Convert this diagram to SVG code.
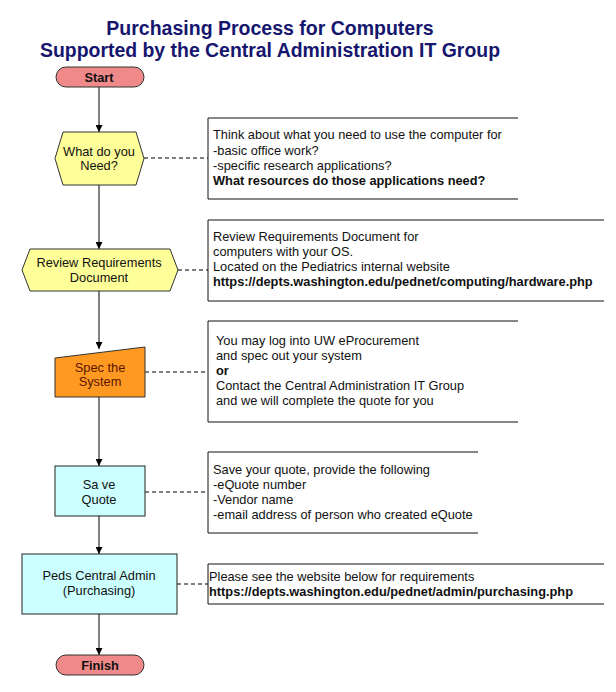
<svg xmlns="http://www.w3.org/2000/svg" width="616" height="692" viewBox="0 0 616 692">
<defs>
<marker id="arr" viewBox="0 0 8 8" refX="8" refY="4" markerWidth="7" markerHeight="7" markerUnits="userSpaceOnUse" orient="auto">
<path d="M0,0 L8,4 L0,8 Z" fill="#000"/>
</marker>
</defs>
<style>
text{font-family:"Liberation Sans",Arial,sans-serif;font-size:12.8px;fill:#111}
.title{font-size:19.5px;font-weight:bold;fill:#16166e;text-anchor:middle}
.b{font-weight:bold}
.c{text-anchor:middle}
.term{fill:#f08a8a;stroke:#333;stroke-width:1}
.prep{fill:#ffff99;stroke:#333;stroke-width:1}
.man{fill:#ff9922;stroke:#333;stroke-width:1}
.proc{fill:#ccffff;stroke:#222;stroke-width:1}
.note{fill:none;stroke:#111;stroke-width:1}
.flow{stroke:#000;stroke-width:1;fill:none;marker-end:url(#arr)}
.dash{stroke:#000;stroke-width:1;fill:none;stroke-dasharray:4,3}
</style>
<rect width="616" height="692" fill="#fff"/>
<g id="title">
<text class="title" x="270" y="35">Purchasing Process for Computers</text>
<text class="title" x="270" y="57" textLength="460" lengthAdjust="spacingAndGlyphs">Supported by the Central Administration IT Group</text>
</g>
<g id="connectors">
<line class="flow" x1="99" y1="87" x2="99" y2="132"/>
<line class="flow" x1="99" y1="185" x2="99" y2="249"/>
<line class="flow" x1="99" y1="291" x2="99" y2="349"/>
<line class="flow" x1="99" y1="397" x2="99" y2="466"/>
<line class="flow" x1="99" y1="516" x2="99" y2="554"/>
<line class="flow" x1="99" y1="614" x2="99" y2="655"/>
<line class="dash" x1="144" y1="158" x2="208" y2="158"/>
<line class="dash" x1="178" y1="270" x2="208" y2="270"/>
<line class="dash" x1="145" y1="372" x2="208" y2="372"/>
<line class="dash" x1="145" y1="492" x2="208" y2="492"/>
<line class="dash" x1="177" y1="584" x2="208" y2="584"/>
</g>
<g id="start">
<rect class="term" x="56" y="67" width="88" height="20" rx="10" ry="10"/>
<text class="b c" x="99" y="81.5">Start</text>
</g>
<g id="need">
<polygon class="prep" points="63,132 136,132 144,158.5 136,185 63,185 55,158.5"/>
<text class="c" x="99" y="156">What do you</text>
<text class="c" x="99" y="170">Need?</text>
</g>
<g id="need-note">
<polyline class="note" points="518,118 208,118 208,199 518,199"/>
<text x="213" y="139">Think about what you need to use the computer for</text>
<text x="213" y="155">-basic office work?</text>
<text x="213" y="170">-specific research applications?</text>
<text class="b" x="213" y="185">What resources do those applications need?</text>
</g>
<g id="review">
<polygon class="prep" points="30,249 170,249 178,270 170,291 30,291 22,270"/>
<text class="c" x="99" y="267">Review Requirements</text>
<text class="c" x="99" y="282">Document</text>
</g>
<g id="review-note">
<polyline class="note" points="604,220 208,220 208,301 604,301"/>
<text x="213" y="241">Review Requirements Document for</text>
<text x="213" y="256">computers with your OS.</text>
<text x="213" y="271">Located on the Pediatrics internal website</text>
<text class="b" x="213" y="286">https://depts.washington.edu/pednet/computing/hardware.php</text>
</g>
<g id="spec">
<polygon class="man" points="55,358 145,347 145,397 55,397"/>
<text class="c" x="100" y="372" style="fill:#5a1500">Spec the</text>
<text class="c" x="100" y="386" style="fill:#5a1500">System</text>
</g>
<g id="spec-note">
<polyline class="note" points="518,321 208,321 208,422 518,422"/>
<text x="216" y="345">You may log into UW eProcurement</text>
<text x="216" y="360">and spec out your system</text>
<text class="b" x="216" y="375">or</text>
<text x="216" y="390">Contact the Central Administration IT Group</text>
<text x="216" y="405">and we will complete the quote for you</text>
</g>
<g id="save">
<rect class="proc" x="55" y="466" width="90" height="50"/>
<text class="c" x="99" y="489">Sa ve</text>
<text class="c" x="99" y="504">Quote</text>
</g>
<g id="save-note">
<polyline class="note" points="478,452 208,452 208,533 478,533"/>
<text x="213" y="474">Save your quote, provide the following</text>
<text x="213" y="489">-eQuote number</text>
<text x="213" y="504">-Vendor name</text>
<text x="213" y="519">-email address of person who created eQuote</text>
</g>
<g id="peds">
<rect class="proc" x="22" y="554" width="155" height="60"/>
<text class="c" x="99" y="580">Peds Central Admin</text>
<text class="c" x="99" y="595">(Purchasing)</text>
</g>
<g id="peds-note">
<polyline class="note" points="604,564 208,564 208,604 604,604"/>
<text x="209" y="581">Please see the website below for requirements</text>
<text class="b" x="209" y="596">https://depts.washington.edu/pednet/admin/purchasing.php</text>
</g>
<g id="finish">
<rect class="term" x="56" y="655" width="88" height="20" rx="10" ry="10"/>
<text class="b c" x="100" y="669.5">Finish</text>
</g>
</svg>
